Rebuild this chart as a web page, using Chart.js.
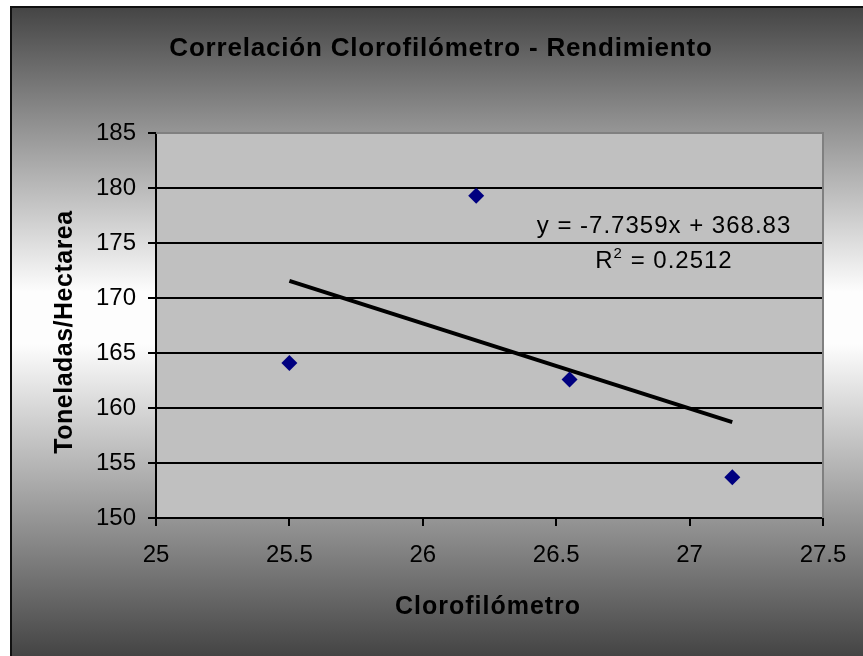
<!DOCTYPE html>
<html><head><meta charset="utf-8">
<script src="https://cdn.jsdelivr.net/npm/chart.js@4"></script>
<style>html,body{margin:0;padding:0;background:#fff}#c{display:block}</style>
</head><body>
<canvas id="c" width="863" height="656"></canvas>
<script>
// ---- data ----
const chartTitle = 'Correlación Clorofilómetro - Rendimiento';
const xTitle = 'Clorofilómetro';
const yTitle = 'Toneladas/Hectarea';
const xValues = [25.5, 26.2, 26.55, 27.16];
const yValues = [164.1, 179.3, 162.6, 153.7];
const xTicks = [25, 25.5, 26, 26.5, 27, 27.5];
const yTicks = [150, 155, 160, 165, 170, 175, 180, 185];
const trendSlope = -7.7359;
const trendIntercept = 368.83;
const rSquared = 0.2512;

const FONT = '"Liberation Sans", Arial, sans-serif';
const points = xValues.map((x, i) => ({x: x, y: yValues[i]}));
const xMin = Math.min(...xValues), xMax = Math.max(...xValues);
const trend = [xMin, xMax].map(x => ({x: x, y: trendSlope * x + trendIntercept}));

const deco = {
  id: 'deco',
  beforeDraw(chart) {
    const ctx = chart.ctx, a = chart.chartArea;
    ctx.save();
    ctx.fillStyle = '#fff';
    ctx.fillRect(0, 0, chart.width, chart.height);
    const g = ctx.createLinearGradient(0, 6, 0, chart.height);
    g.addColorStop(0, '#444444');
    g.addColorStop(0.44, '#fdfdfd');
    g.addColorStop(0.52, '#fdfdfd');
    g.addColorStop(1, '#444444');
    ctx.fillStyle = g;
    ctx.fillRect(10, 6, chart.width - 10, chart.height - 6);
    ctx.fillStyle = '#111';
    ctx.fillRect(10, 6, chart.width - 10, 2);
    ctx.fillRect(10, 6, 2, chart.height - 6);
    ctx.fillStyle = '#c0c0c0';
    ctx.fillRect(a.left, a.top, a.right - a.left, a.bottom - a.top);
    ctx.restore();
  },
  beforeDatasetsDraw(chart) {
    const ctx = chart.ctx, a = chart.chartArea;
    ctx.save();
    ctx.strokeStyle = '#808080';
    ctx.lineWidth = 2;
    ctx.beginPath();
    ctx.moveTo(a.left, a.top);
    ctx.lineTo(a.right, a.top);
    ctx.lineTo(a.right, a.bottom);
    ctx.stroke();
    ctx.restore();
  },
  afterDraw(chart) {
    const ctx = chart.ctx;
    ctx.save();
    ctx.fillStyle = '#000';
    ctx.textAlign = 'center';
    ctx.textBaseline = 'alphabetic';
    ctx.font = 'bold 26px ' + FONT;
    ctx.letterSpacing = '0.8px';
    ctx.fillText(chartTitle, 441, 56);
    ctx.font = 'bold 25px ' + FONT;
    ctx.letterSpacing = '1px';
    ctx.fillText(xTitle, 488, 614);
    ctx.letterSpacing = '0.5px';
    ctx.save();
    ctx.translate(72, 332);
    ctx.rotate(-Math.PI / 2);
    ctx.fillText(yTitle, 0, 0);
    ctx.restore();
    // trendline label
    ctx.letterSpacing = '1px';
    ctx.font = '24px ' + FONT;
    ctx.fillText('y = ' + trendSlope + 'x + ' + trendIntercept, 664, 233);
    const p1 = 'R', p2 = '2', p3 = ' = ' + rSquared;
    const w1 = ctx.measureText(p1).width, w3 = ctx.measureText(p3).width;
    ctx.font = '15px ' + FONT;
    const w2 = ctx.measureText(p2).width;
    const tot = w1 + w2 + w3;
    let x0 = 664 - tot / 2;
    ctx.textAlign = 'left';
    ctx.font = '24px ' + FONT;
    ctx.fillText(p1, x0, 268);
    ctx.font = '15px ' + FONT;
    ctx.fillText(p2, x0 + w1, 258);
    ctx.font = '24px ' + FONT;
    ctx.fillText(p3, x0 + w1 + w2, 268);
    ctx.restore();
  }
};

new Chart(document.getElementById('c'), {
  type: 'scatter',
  data: {
    datasets: [
      {
        label: 'Datos',
        data: points,
        pointStyle: 'rectRot',
        pointRadius: 8,
        pointHoverRadius: 8,
        backgroundColor: '#000080',
        borderColor: '#000080',
        borderWidth: 0,
        order: 1
      },
      {
        label: 'Tendencia',
        type: 'line',
        data: trend,
        borderColor: '#000',
        borderWidth: 4,
        pointRadius: 0,
        fill: false,
        order: 2
      }
    ]
  },
  options: {
    responsive: false,
    animation: false,
    devicePixelRatio: 1,
    layout: {padding: {left: 10, top: 133, right: 40, bottom: 0}},
    plugins: {legend: {display: false}, title: {display: false}, tooltip: {enabled: false}},
    scales: {
      x: {
        type: 'linear', min: 25, max: 27.5,
        afterBuildTicks: s => { s.ticks = xTicks.map(v => ({value: v})); },
        afterFit: s => { s.height = 138; },
        ticks: {color: '#000', font: {family: FONT, size: 24}, padding: 15,
                callback: v => String(v), maxRotation: 0, autoSkip: false},
        grid: {drawOnChartArea: false, drawTicks: true, tickLength: 8, color: '#000', lineWidth: 2},
        border: {color: '#000', width: 2}
      },
      y: {
        type: 'linear', min: 150, max: 185,
        afterBuildTicks: s => { s.ticks = yTicks.map(v => ({value: v})); },
        afterFit: s => { s.width = 146; },
        ticks: {color: '#000', font: {family: FONT, size: 24}, padding: 12,
                callback: v => String(v), autoSkip: false},
        grid: {
          color: c => (c.tick && c.tick.value === 185) ? 'rgba(0,0,0,0)' : '#000',
          tickColor: '#000', lineWidth: 2, tickLength: 8
        },
        border: {color: '#000', width: 2}
      }
    }
  },
  plugins: [deco]
});
</script>
</body></html>
